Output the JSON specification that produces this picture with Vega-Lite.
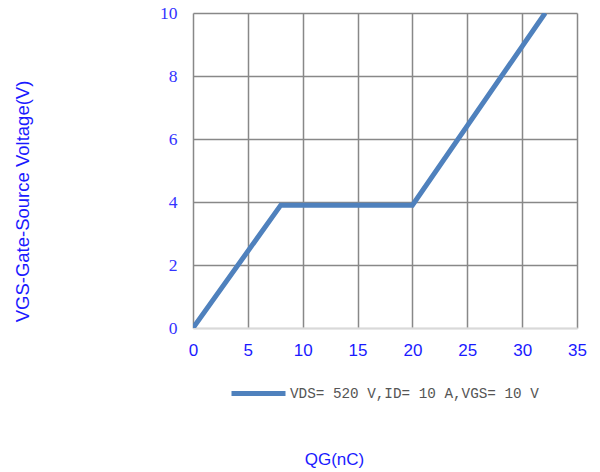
{
  "$schema": "https://vega.github.io/schema/vega-lite/v6.json",
  "autosize": {"type": "none"},
  "width": 384,
  "height": 315,
  "padding": {"left": 193, "top": 13, "right": 23, "bottom": 144},
  "background": "white",
  "data": {"values": [
    {"qg": 0, "vgs": 0, "series": "VDS= 520 V,ID= 10 A,VGS= 10 V"},
    {"qg": 8, "vgs": 3.9, "series": "VDS= 520 V,ID= 10 A,VGS= 10 V"},
    {"qg": 20, "vgs": 3.9, "series": "VDS= 520 V,ID= 10 A,VGS= 10 V"},
    {"qg": 32.1, "vgs": 10, "series": "VDS= 520 V,ID= 10 A,VGS= 10 V"}
  ]},
  "config": {"view": {"stroke": null}},
  "mark": {"type": "line", "strokeWidth": 5, "clip": true, "strokeCap": "butt", "strokeJoin": "miter"},
  "encoding": {
    "x": {"field": "qg", "type": "quantitative",
      "scale": {"domain": [0, 35], "nice": false, "zero": false},
      "axis": {"title": "QG(nC)", "values": [0,5,10,15,20,25,30,35], "grid": true,
        "gridColor": "#888888", "gridWidth": 1.5, "domain": true, "domainColor": "#d9d9d9", "domainWidth": 2,
        "ticks": false, "labelPadding": 14, "labelFlush": false, "labelFont": "Liberation Sans", "labelFontSize": 17, "labelColor": "#1a1aff",
        "titleFont": "Liberation Sans", "titleFontSize": 17, "titleFontWeight": "normal", "titleColor": "#1a1aff",
        "titleX": 141, "titleY": 131, "titleAnchor": "middle", "titleBaseline": "middle", "zindex": 0}},
    "y": {"field": "vgs", "type": "quantitative",
      "scale": {"domain": [0, 10], "nice": false},
      "axis": {"title": "VGS-Gate-Source Voltage(V)", "values": [0,2,4,6,8,10], "grid": true,
        "gridColor": {"condition": {"test": "datum.value === 0", "value": "#d9d9d9"}, "value": "#888888"},
        "gridWidth": 1.5, "domain": false, "ticks": false, "labelPadding": 16, "labelFlush": false,
        "labelFont": "Liberation Serif", "labelFontSize": 17.5, "labelColor": "#3333ff",
        "titleFont": "Liberation Sans", "titleFontSize": 18.5, "titleFontWeight": "normal", "titleColor": "#1a1aff",
        "titleX": -171, "titleY": 188, "titleAnchor": "middle", "titleBaseline": "middle", "titleAngle": -90}},
    "color": {"field": "series", "type": "nominal",
      "scale": {"range": ["#4f81bd"]},
      "legend": {"title": null, "orient": "none", "legendX": 36, "legendY": 351,
        "symbolType": "stroke", "symbolSize": 2916, "symbolStrokeWidth": 5, "symbolOffset": 0,
        "labelFont": "Liberation Mono", "labelFontSize": 14.3, "labelColor": "#555555", "labelOffset": 2, "labelLimit": 400, "padding": 0}}
  }
}
